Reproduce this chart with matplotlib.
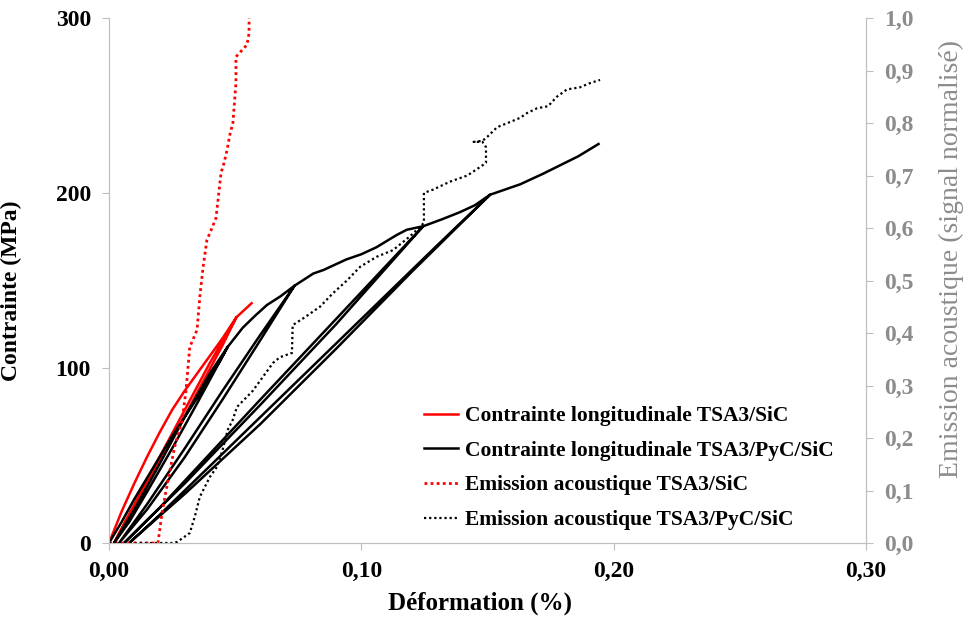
import matplotlib
matplotlib.use('Agg')
from matplotlib import pyplot as plt

plt.rcParams['font.family'] = ['Liberation Serif', 'DejaVu Serif']
plt.rcParams['font.weight'] = 'bold'

# Contrainte TSA3/SiC (déformation %, MPa)
sic_def = [0, 0.005, 0.01, 0.015, 0.02, 0.025, 0.03, 0.035, 0.04, 0.045, 0.0505,
           0.045, 0.035, 0.025, 0.015, 0.008, 0.002,
           0.01, 0.02, 0.03, 0.04, 0.0505, 0.0535, 0.0565]
sic_sig = [0, 18, 34, 49, 63, 76, 87, 97, 107, 117, 129,
           113, 86, 59, 33, 16, 0,
           22, 49, 76, 103, 129, 133, 137]

# Contrainte TSA3/PyC/SiC
pyc_def = [0, 0.005, 0.01, 0.015, 0.02, 0.025, 0.03, 0.035, 0.04, 0.044, 0.047,
           0.035, 0.025, 0.015, 0.008, 0.002,
           0.01, 0.02, 0.03, 0.04, 0.047,
           0.053, 0.058, 0.0626, 0.068, 0.0735,
           0.06, 0.045, 0.03, 0.015, 0.004,
           0.015, 0.03, 0.045, 0.06, 0.0735,
           0.081, 0.085, 0.094, 0.1, 0.106, 0.114, 0.118, 0.1245,
           0.09, 0.06, 0.03, 0.015, 0.006,
           0.02, 0.04, 0.06, 0.09, 0.1245,
           0.132, 0.139, 0.145, 0.151,
           0.12, 0.09, 0.06, 0.03, 0.015, 0.008,
           0.02, 0.04, 0.07, 0.1, 0.13, 0.151,
           0.163, 0.172, 0.179, 0.186, 0.194]
pyc_sig = [0, 12, 25, 37, 49, 61, 72, 83, 95, 104, 112,
           80, 54, 29, 12, 0,
           19, 45, 72, 97, 112,
           123, 130, 136, 141, 147,
           116, 82, 49, 19, 0,
           22, 54, 87, 119, 147,
           154, 156, 162, 165, 169, 176, 179, 181,
           125, 79, 34, 13, 0,
           20, 51, 82, 128, 181,
           185, 189, 193, 199,
           155, 111, 68, 28, 9, 0,
           16, 44, 86, 128, 170, 199,
           205, 211, 216, 221, 228]

# Emission acoustique TSA3/SiC (signal normalisé)
ae_sic_def = [0, 0.005, 0.01, 0.015, 0.0194, 0.021, 0.0234, 0.026, 0.029, 0.0305,
              0.032, 0.0349, 0.036, 0.0373, 0.0388, 0.0408, 0.0424, 0.0432, 0.0444,
              0.0456, 0.0468, 0.048, 0.0491, 0.0495, 0.0503, 0.0503, 0.052, 0.0547,
              0.0555, 0.0555]
ae_sic = [0, 0, 0, 0, 0, 0.057, 0.12, 0.183, 0.234, 0.29,
          0.373, 0.406, 0.469, 0.526, 0.577, 0.60, 0.619, 0.653, 0.705,
          0.724, 0.749, 0.78, 0.80, 0.825, 0.876, 0.926, 0.935, 0.949,
          0.971, 1.0]

# Emission acoustique TSA3/PyC/SiC
ae_pyc_def = [0, 0.01, 0.02, 0.025, 0.027, 0.032, 0.034, 0.036, 0.04, 0.0428,
              0.045, 0.047, 0.049, 0.0507, 0.057, 0.065, 0.0678, 0.0725, 0.0728,
              0.077, 0.0836, 0.0888, 0.0943, 0.0995, 0.106, 0.1126, 0.119, 0.1233,
              0.1248, 0.1248, 0.1284, 0.135, 0.142, 0.147, 0.1494, 0.1494, 0.148,
              0.1445, 0.148, 0.150, 0.1538, 0.159, 0.163, 0.1657, 0.1696, 0.174,
              0.1775, 0.1815, 0.1867, 0.1906, 0.1946]
ae_pyc = [0, 0, 0, 0, 0.002, 0.019, 0.05, 0.088, 0.126, 0.145,
          0.177, 0.215, 0.234, 0.259, 0.29, 0.343, 0.354, 0.362, 0.415,
          0.428, 0.45, 0.476, 0.50, 0.526, 0.545, 0.558, 0.583, 0.602,
          0.61, 0.667, 0.673, 0.688, 0.70, 0.716, 0.724, 0.754, 0.764,
          0.764, 0.766, 0.774, 0.792, 0.802, 0.81, 0.819, 0.828, 0.832,
          0.85, 0.864, 0.868, 0.876, 0.882]

x_ticks = [0, 0.10, 0.20, 0.30]
x_labels = ['0,00', '0,10', '0,20', '0,30']
y_ticks = [0, 100, 200, 300]
y2_ticks = [0, 0.1, 0.2, 0.3, 0.4, 0.5, 0.6, 0.7, 0.8, 0.9, 1.0]
y2_labels = ['0,0', '0,1', '0,2', '0,3', '0,4', '0,5', '0,6', '0,7', '0,8', '0,9', '1,0']

gris = '#bfbfbf'
gris_txt = '#8c8c8c'

fig = plt.figure(figsize=(9.64, 6.26), dpi=100)
ax = fig.add_axes([109/964, 1 - 543/626, 757/964, 525/626])
ax2 = ax.twinx()

l1, = ax.plot(sic_def, sic_sig, color='red', lw=1.8, label='Contrainte longitudinale TSA3/SiC')
l2, = ax.plot(pyc_def, pyc_sig, color='black', lw=1.8, label='Contrainte longitudinale TSA3/PyC/SiC')
l3, = ax2.plot(ae_sic_def, ae_sic, color='red', lw=2.0, linestyle=(0, (1, 1.2)),
               label='Emission acoustique TSA3/SiC')
l4, = ax2.plot(ae_pyc_def, ae_pyc, color='black', lw=1.6, linestyle=(0, (1, 1.3)),
               label='Emission acoustique TSA3/PyC/SiC')

ax.set_xlim(0, 0.30)
ax.set_ylim(0, 300)
ax2.set_ylim(0, 1.0)

ax.set_xticks(x_ticks)
ax.set_xticklabels(x_labels, fontsize=17, fontweight='bold')
ax.set_yticks(y_ticks)
ax.set_yticklabels([str(v) for v in y_ticks], fontsize=17, fontweight='bold')
ax2.set_yticks(y2_ticks)
ax2.set_yticklabels(y2_labels, fontsize=17, fontweight='bold', color=gris_txt)

for a in (ax, ax2):
    a.spines['top'].set_visible(False)
    for s in ('left', 'right', 'bottom'):
        a.spines[s].set_color(gris)
ax.tick_params(axis='both', color=gris, length=5, pad=8)
ax2.tick_params(axis='y', color=gris, length=5, pad=8)

ax.set_xlabel('Déformation (%)', fontsize=18, fontweight='bold')
ax.xaxis.set_label_coords(0.49, (543 - 592) / 525, transform=ax.transAxes)
ax.set_ylabel('Contrainte (MPa)', fontsize=17, fontweight='bold')
ax.yaxis.set_label_coords((22 - 109) / 757, 0.48)
ax2.set_ylabel('Emission acoustique (signal normalisé)', fontsize=20,
               fontweight='normal', color=gris_txt, rotation=90, va='center')
ax2.yaxis.set_label_coords((951 - 109) / 757, (543 - 259) / 525)

ax2.legend(handles=[l1, l2, l3, l4], loc='upper left', frameon=False,
           bbox_to_anchor=(424/964, 1 - 406/626), bbox_transform=fig.transFigure,
           prop={'size': 15.5, 'weight': 'bold'}, handlelength=1.6, handletextpad=0.3,
           labelspacing=0.68, borderpad=0, borderaxespad=0)

fig.savefig('out.png', dpi=100)
